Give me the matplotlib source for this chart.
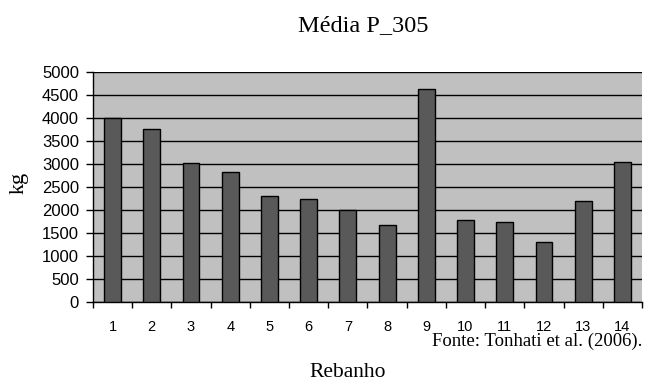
import matplotlib
matplotlib.use("Agg")
import matplotlib.pyplot as plt
from matplotlib.ticker import FixedLocator, NullFormatter

rebanho = ["1", "2", "3", "4", "5", "6", "7", "8", "9", "10", "11", "12", "13", "14"]
media_p305 = [4000, 3765, 3020, 2830, 2310, 2240, 2010, 1680, 4625, 1775, 1740, 1310, 2205, 3045]

fig = plt.figure(figsize=(6.53, 3.83), dpi=100)
ax = fig.add_axes([0.1424, 0.2115, 0.8407, 0.6005])
ax.set_facecolor("#c0c0c0")

x = list(range(len(rebanho)))
ax.bar(x, media_p305, width=0.43, color="#595959", edgecolor="black", linewidth=1.0, zorder=3)

ax.set_xlim(-0.5, len(rebanho) - 0.5)
ax.set_ylim(0, 5000)
ax.set_yticks(range(0, 5001, 500))
ax.yaxis.grid(True, color="black", linewidth=1.0, zorder=1)
ax.set_axisbelow(True)

# ticks between categories, labels centred under each bar
ax.xaxis.set_major_locator(FixedLocator([i - 0.5 for i in range(len(rebanho) + 1)]))
ax.xaxis.set_major_formatter(NullFormatter())
ax.xaxis.set_minor_locator(FixedLocator(x))
ax.set_xticklabels(rebanho, minor=True)
ax.tick_params(axis="x", which="minor", length=0, pad=13)
ax.tick_params(axis="x", which="major", direction="out", length=4, width=1)
ax.tick_params(axis="y", direction="out", length=5, width=1, pad=5)
for lbl in ax.get_xticklabels(minor=True):
    lbl.set_fontfamily("Liberation Sans")
    lbl.set_fontsize(10.5)
for lbl in ax.get_yticklabels():
    lbl.set_fontfamily("Liberation Sans")
    lbl.set_fontsize(12)

for side in ("top", "right"):
    ax.spines[side].set_visible(False)
for side in ("left", "bottom"):
    ax.spines[side].set_color("black")
    ax.spines[side].set_linewidth(1.0)

serif = "Liberation Serif"
fig.text(0.556, 0.932, "Média P_305", family=serif, fontsize=17.5, ha="center", va="center")
fig.text(0.029, 0.522, "kg", family=serif, fontsize=16, rotation=90, ha="center", va="center")
fig.text(0.983, 0.109, "Fonte: Tonhati et al. (2006).", family=serif, fontsize=13.5, ha="right", va="center")
fig.text(0.533, 0.003, "Rebanho", family=serif, fontsize=15.5, ha="center", va="bottom")

fig.savefig("out.png", dpi=100)
